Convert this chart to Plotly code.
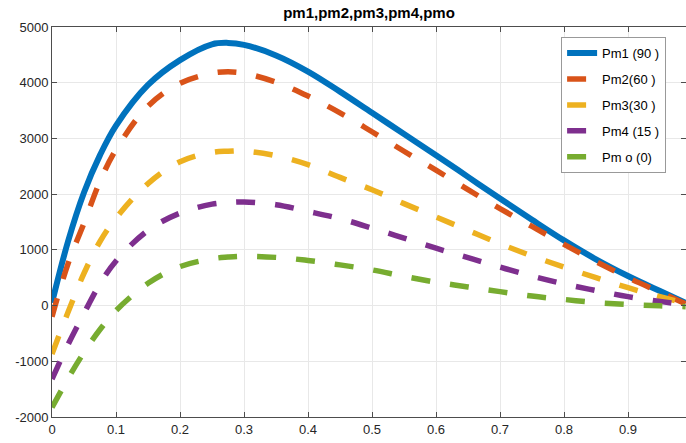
import plotly.graph_objects as go

x_vals = [0, 0.025, 0.05, 0.075, 0.1, 0.15, 0.2, 0.25, 0.275, 0.3, 0.35, 0.4, 0.45,
          0.5, 0.55, 0.6, 0.65, 0.7, 0.75, 0.8, 0.85, 0.9, 0.95, 0.99]

pm1 = [50, 1150, 2030, 2700, 3230, 3960, 4406, 4690, 4715, 4680, 4490, 4200, 3840,
       3460, 3080, 2700, 2310, 1920, 1540, 1170, 830, 530, 260, 50]
pm2 = [-200, 750, 1480, 2230, 2800, 3580, 3990, 4170, 4195, 4170, 4010, 3760, 3460,
       3120, 2770, 2430, 2080, 1740, 1420, 1100, 790, 500, 240, 30]
pm3 = [-870, -120, 580, 1150, 1570, 2190, 2580, 2750, 2770, 2775, 2690, 2530, 2300,
       2080, 1830, 1590, 1350, 1110, 890, 690, 500, 320, 160, 40]
pm4 = [-1320, -700, -140, 390, 800, 1350, 1660, 1820, 1850, 1860, 1810, 1690, 1560,
       1390, 1210, 1030, 860, 690, 530, 390, 270, 160, 75, 10]
pmo = [-1830, -1310, -840, -430, -90, 400, 700, 840, 870, 885, 865, 810, 730,
       640, 525, 420, 335, 250, 170, 110, 55, 20, -5, -20]

series_names = ["Pm1 (90 )", "Pm2(60 )", "Pm3(30 )", "Pm4 (15 )", "Pm o (0)"]
series_values = [pm1, pm2, pm3, pm4, pmo]
colors = ["#0072BD", "#D95319", "#EDB120", "#7E2F8E", "#77AC30"]
dashes = ["solid", "19px,20px", "19px,20px", "19px,20px", "19px,20px"]
widths = [6, 5.5, 5.5, 5.5, 5.5]

x_ticks = [0, 0.1, 0.2, 0.3, 0.4, 0.5, 0.6, 0.7, 0.8, 0.9]
x_ticktext = ["0", "0.1", "0.2", "0.3", "0.4", "0.5", "0.6", "0.7", "0.8", "0.9"]
y_ticks = [-2000, -1000, 0, 1000, 2000, 3000, 4000, 5000]
y_ticktext = ["-2000", "-1000", "0", "1000", "2000", "3000", "4000", "5000"]

fig = go.Figure()
for i, (name, vals) in enumerate(zip(series_names, series_values)):
    fig.add_trace(go.Scatter(
        x=x_vals, y=vals, name=name, mode="lines",
        line=dict(color=colors[i], width=widths[i], dash=dashes[i], shape="spline", smoothing=1.0),
        legendgroup=f"g{i}",
    ))

font_family = "Liberation Sans, Arial, sans-serif"
axis_common = dict(
    showgrid=True, gridcolor="#e8e8e8", gridwidth=1,
    showline=True, linecolor="#4d4d4d", linewidth=1,
    ticks="inside", ticklen=5, tickcolor="#4d4d4d", tickwidth=1,
    mirror="ticks", zeroline=False,
    tickfont=dict(family=font_family, size=13, color="#262626"),
)

fig.update_layout(
    width=686, height=443,
    margin=dict(l=52, r=0, t=27, b=26),
    paper_bgcolor="white", plot_bgcolor="white",
    title=dict(text="<b>pm1,pm2,pm3,pm4,pmo</b>", x=0.5379, xanchor="center", y=0.972, yanchor="middle",
               font=dict(family=font_family, size=15, color="#000000")),
    xaxis=dict(range=[0, 0.9906], tickvals=x_ticks, ticktext=x_ticktext, **axis_common),
    yaxis=dict(range=[-2000, 5000], tickvals=y_ticks, ticktext=y_ticktext, **axis_common),
    legend=dict(
        x=0.803, y=0.974, xanchor="left", yanchor="top",
        bgcolor="white", bordercolor="#999999", borderwidth=1,
        font=dict(family=font_family, size=13, color="#000000"),
        traceorder="grouped", tracegroupgap=6, entrywidth=77,
    ),
    showlegend=True,
)

fig.write_html("out.html")
